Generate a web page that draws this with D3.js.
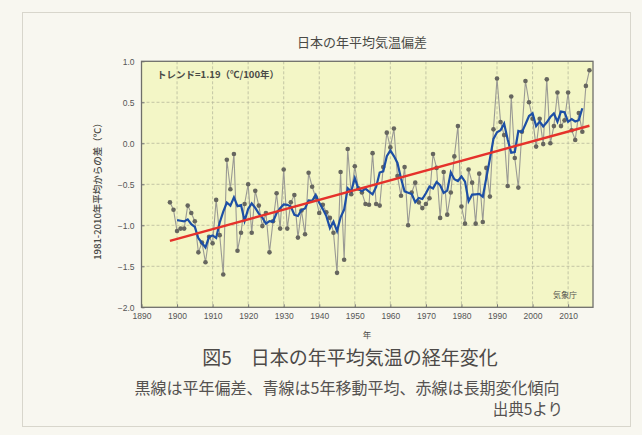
<!DOCTYPE html>
<html><head><meta charset="utf-8">
<script src="https://cdn.jsdelivr.net/npm/d3@7"></script>
<style>
html,body{margin:0;padding:0;background:#f8f7f0;}
svg{display:block;}
</style></head><body>
<svg id="chart" width="642" height="435"></svg>
<script>
// Annual mean temperature anomaly in Japan (deviation from 1981-2010 normal, °C)
const years = d3.range(1898, 2017);
const anomalies = [
  -0.72, -0.81, -1.07, -1.04, -1.04, -0.76, -0.85, -0.95, -1.33, -1.21, // 1898-1907
  -1.45, -1.14, -1.22, -0.69, -1.12, -1.60, -0.20, -0.56, -0.13, -1.31, // 1908-1917
  -1.09, -0.74, -0.50, -1.09, -0.58, -0.76, -1.01, -0.85, -1.33, -0.95, // 1918-1927
  -0.61, -1.04, -0.32, -1.04, -0.72, -0.63, -1.15, -0.82, -1.11, -0.36, // 1928-1937
  -0.53, -0.66, -0.85, -0.75, -0.84, -0.91, -1.09, -1.58, -0.35, -1.42, // 1938-1947
  -0.07, -0.62, -0.28, -0.55, -0.60, -0.74, -0.75, -0.12, -0.74, -0.76, // 1948-1957
  -0.29,  0.13, -0.05,  0.18, -0.40, -0.64, -0.29, -1.00, -0.60, -0.48, // 1958-1967
  -0.72, -0.79, -0.74, -0.67, -0.13, -0.30, -0.91, -0.35, -0.87, -0.60, // 1968-1977
  -0.16,  0.21, -0.77, -0.98, -0.32, -0.48, -0.98, -0.37, -0.96, -0.30, // 1978-1987
  -0.65,  0.17,  0.79,  0.26,  0.10, -0.52,  0.57, -0.18, -0.54,  0.14, // 1988-1997
   0.76,  0.50,  0.30, -0.04,  0.30, -0.01,  0.78,  0.00,  0.21,  0.62, // 1998-2007
   0.21,  0.28,  0.62,  0.16,  0.04,  0.37,  0.14,  0.70,  0.89         // 2008-2016
];
const xTicks = d3.range(1890, 2011, 10);
const yTicks = [1.0, 0.5, 0.0, -0.5, -1.0, -1.5, -2.0];
const trendPerCentury = 1.19;          // °C per 100 years
const trendAnchor = [1898, -1.19];     // trend value at the first year

const svg = d3.select("#chart");
const W = 642, H = 435;

// page frame
svg.append("rect").attr("x", 0).attr("y", 0).attr("width", W).attr("height", H).attr("fill", "#f8f7f0");
svg.append("rect").attr("x", 22.5).attr("y", 12.5).attr("width", 608).attr("height", 414)
  .attr("fill", "none").attr("stroke", "#d8d6cc").attr("stroke-width", 1);

const x = d3.scaleLinear().domain([1890, 2017]).range([141.5, 593]);
const y = d3.scaleLinear().domain([-2, 1]).range([307.3, 61.3]);

// plot background
svg.append("rect")
  .attr("x", x(1890)).attr("y", y(1))
  .attr("width", x(2017) - x(1890)).attr("height", y(-2) - y(1))
  .attr("fill", "#f3f6c6");

// grid
const grid = svg.append("g").attr("stroke", "#b6b99c").attr("stroke-width", 0.8).attr("stroke-dasharray", "3,2");
grid.selectAll("line.v").data(xTicks.slice(1)).join("line")
  .attr("x1", d => x(d)).attr("x2", d => x(d)).attr("y1", y(1)).attr("y2", y(-2));
grid.selectAll("line.h").data(yTicks.slice(1, -1)).join("line")
  .attr("x1", x(1890)).attr("x2", x(2017)).attr("y1", d => y(d)).attr("y2", d => y(d));

// axes
const fmt = d3.format(".1f");
const xAxis = svg.append("g").attr("transform", `translate(0,${y(-2)})`)
  .call(d3.axisBottom(x).tickValues(xTicks).tickFormat(d3.format("d")).tickSize(-3).tickPadding(6));
const yAxis = svg.append("g").attr("transform", `translate(${x(1890)},0)`)
  .call(d3.axisLeft(y).tickValues(yTicks).tickFormat(d => fmt(d)).tickSize(-3).tickPadding(7));
[xAxis, yAxis].forEach(g => {
  g.select(".domain").remove();
  g.selectAll(".tick line").attr("stroke", "#777");
  g.selectAll("text").attr("fill", "#555").attr("font-family", "Liberation Sans, Arial, sans-serif").attr("font-size", 8.5);
});

// plot border
svg.append("rect")
  .attr("x", x(1890)).attr("y", y(1))
  .attr("width", x(2017) - x(1890)).attr("height", y(-2) - y(1))
  .attr("fill", "none").attr("stroke", "#6f6f6a").attr("stroke-width", 1.3);

const data = years.map((yr, i) => ({ yr, v: anomalies[i] }));

// annual anomalies
svg.append("path").datum(data)
  .attr("fill", "none").attr("stroke", "#9a9a94").attr("stroke-width", 1.1)
  .attr("d", d3.line().x(d => x(d.yr)).y(d => y(d.v)));
svg.append("g").selectAll("circle").data(data).join("circle")
  .attr("cx", d => x(d.yr)).attr("cy", d => y(d.v)).attr("r", 2.3)
  .attr("fill", "#66665f");

// 5-year running mean
const running = data.slice(2, -2).map((d, i) => ({ yr: d.yr, v: d3.mean(anomalies.slice(i, i + 5)) }));
svg.append("path").datum(running)
  .attr("fill", "none").attr("stroke", "#1d4fa5").attr("stroke-width", 2.2)
  .attr("d", d3.line().x(d => x(d.yr)).y(d => y(d.v)));

// long-term trend
const trend = [years[0], years[years.length - 1]].map(yr => ({ yr, v: trendAnchor[1] + trendPerCentury / 100 * (yr - trendAnchor[0]) }));
svg.append("path").datum(trend)
  .attr("fill", "none").attr("stroke", "#e5322b").attr("stroke-width", 2.4)
  .attr("d", d3.line().x(d => x(d.yr)).y(d => y(d.v)));

// texts
const jp = "'Noto Sans CJK JP', sans-serif";
svg.append("text").attr("x", 362).attr("y", 47).attr("text-anchor", "middle")
  .attr("font-family", jp).attr("font-size", 13).attr("fill", "#4a4a46").text("日本の年平均気温偏差");
svg.append("text").attr("x", 157).attr("y", 78)
  .attr("font-family", jp).attr("font-size", 9.5).attr("font-weight", 700).attr("fill", "#4a4a46")
  .text(`トレンド=${trendPerCentury.toFixed(2)}（℃/100年）`);
svg.append("text").attr("x", 577).attr("y", 298).attr("text-anchor", "end")
  .attr("font-family", jp).attr("font-size", 8).attr("fill", "#55554f").text("気象庁");
svg.append("text").attr("transform", "translate(101,189) rotate(-90)").attr("text-anchor", "middle")
  .attr("font-family", jp).attr("font-size", 9.5).attr("font-weight", 500).attr("fill", "#4a4a46").text("1981-2010年平均からの差（℃）");
svg.append("text").attr("x", 367).attr("y", 338).attr("text-anchor", "middle")
  .attr("font-family", jp).attr("font-size", 8.5).attr("fill", "#4a4a46").text("年");

svg.append("text").attr("x", 350).attr("y", 365).attr("text-anchor", "middle")
  .attr("font-family", jp).attr("font-size", 19).attr("font-weight", 400).attr("fill", "#4d4a48")
  .text("図5　日本の年平均気温の経年変化");
svg.append("text").attr("x", 347).attr("y", 394).attr("text-anchor", "middle")
  .attr("font-family", jp).attr("font-size", 16).attr("fill", "#555250")
  .text("黒線は平年偏差、青線は5年移動平均、赤線は長期変化傾向");
svg.append("text").attr("x", 563).attr("y", 415).attr("text-anchor", "end")
  .attr("font-family", jp).attr("font-size", 15.5).attr("fill", "#555250")
  .text("出典5より");
</script>
</body></html>
